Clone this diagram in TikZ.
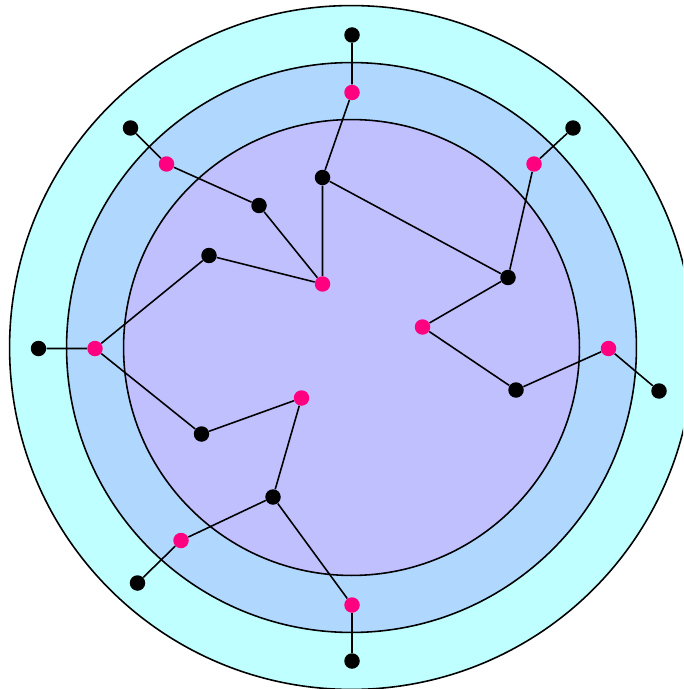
\documentclass[tikz,border=0pt]{standalone}
\usepackage{tikz}

\definecolor{ringout}{RGB}{192,255,255}
\definecolor{ringmid}{RGB}{176,216,255}
\definecolor{ringin}{RGB}{192,192,255}
\definecolor{hotpink}{RGB}{255,0,128}

\begin{document}
\begin{tikzpicture}[x=0.02cm, y=-0.02cm,
    bdot/.style={circle, fill=black, inner sep=0pt, minimum size=0.31cm},
    mdot/.style={circle, fill=hotpink, inner sep=0pt, minimum size=0.31cm},
    ring/.style={draw=black, line width=0.9pt},
    edge/.style={draw=black, line width=0.9pt}]
    \useasboundingbox (0,0) rectangle (683,689);
    \clip (0,0) rectangle (683,689);
    % Rings
    \coordinate (c) at (351.5,347.5);
    \draw[ring, fill=ringout] (c) circle[radius=6.84cm];
    \draw[ring, fill=ringmid] (c) circle[radius=5.70cm];
    \draw[ring, fill=ringin] (c) circle[radius=4.56cm];
    % Black points
    \node[bdot] (b1) at (352,35) {};
    \node[bdot] (b2) at (322.5,177.5) {};
    \node[bdot] (b3) at (259,205.5) {};
    \node[bdot] (b4) at (209,255.5) {};
    \node[bdot] (b5) at (130.5,128) {};
    \node[bdot] (b6) at (573,128) {};
    \node[bdot] (b7) at (508,277.5) {};
    \node[bdot] (b8) at (516,390) {};
    \node[bdot] (b9) at (659,391) {};
    \node[bdot] (b10) at (38.5,348.5) {};
    \node[bdot] (b11) at (201.5,434) {};
    \node[bdot] (b12) at (273,497) {};
    \node[bdot] (b13) at (137.5,583) {};
    \node[bdot] (b14) at (352,661) {};
    % Pink points
    \node[mdot] (m1) at (352,92.5) {};
    \node[mdot] (m2) at (322.5,284) {};
    \node[mdot] (m3) at (166.5,164) {};
    \node[mdot] (m4) at (534,164) {};
    \node[mdot] (m5) at (422.5,327) {};
    \node[mdot] (m6) at (608.5,348.5) {};
    \node[mdot] (m7) at (95,348.5) {};
    \node[mdot] (m8) at (301.5,398) {};
    \node[mdot] (m9) at (181,540.5) {};
    \node[mdot] (m10) at (352,605) {};
    % Tree edges
    \draw[edge] (b1) -- (m1) -- (b2) -- (m2);
    \draw[edge] (b2) -- (b7);
    \draw[edge] (b5) -- (m3) -- (b3) -- (m2);
    \draw[edge] (b4) -- (m2);
    \draw[edge] (b6) -- (m4) -- (b7) -- (m5) -- (b8) -- (m6) -- (b9);
    \draw[edge] (b10) -- (m7) -- (b4);
    \draw[edge] (m7) -- (b11) -- (m8) -- (b12) -- (m9) -- (b13);
    \draw[edge] (b12) -- (m10) -- (b14);
\end{tikzpicture}
\end{document}
